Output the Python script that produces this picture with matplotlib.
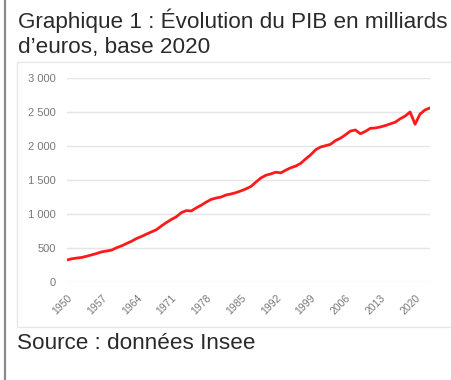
import numpy as np
import matplotlib
matplotlib.use("Agg")
import matplotlib.pyplot as plt
from matplotlib.patches import Rectangle
from matplotlib.lines import Line2D

plt.rcParams['font.family'] = ['Liberation Sans', 'DejaVu Sans']

years = np.arange(1950, 2024)
pib = [
    324, 342, 352, 362, 380, 400, 420, 444, 456, 470,
    505, 532, 567, 600, 640, 670, 705, 737, 770, 825,
    875, 920, 960, 1020, 1050, 1045, 1090, 1130, 1175, 1215,
    1235, 1250, 1280, 1295, 1315, 1340, 1370, 1405, 1470, 1530,
    1570, 1590, 1615, 1605, 1645, 1680, 1705, 1745, 1810, 1870,
    1945, 1985, 2005, 2025, 2080, 2115, 2165, 2220, 2235, 2180,
    2215, 2260, 2265, 2280, 2300, 2325, 2350, 2400, 2440, 2500,
    2320, 2470, 2530, 2560,
]
tick_years = list(range(1950, 2021, 7))
y_ticks = [0, 500, 1000, 1500, 2000, 2500, 3000]
y_labels = ["0", "500", "1 000", "1 500", "2 000", "2 500", "3 000"]

W, H = 452, 380
fig = plt.figure(figsize=(W / 100, H / 100), dpi=100)

# decorations: left bar and chart frame
fig.add_artist(Line2D([5 / W, 5 / W], [0, 1], color="#8a8a8a", lw=1.6))
fig.add_artist(Rectangle((17 / W, 1 - 327 / H), 1.0, (327 - 62) / H,
                         fill=False, edgecolor="#e6e6e6", lw=1))

fig.text(18 / W, 1 - 28 / H, "Graphique 1 : Évolution du PIB en milliards",
         fontsize=16.2, color="#2a2a2a", va="baseline")
fig.text(18 / W, 1 - 53 / H, "d’euros, base 2020",
         fontsize=16.2, color="#2a2a2a", va="baseline")
fig.text(17 / W, 1 - 349 / H, "Source : données Insee",
         fontsize=16.2, color="#2a2a2a", va="baseline")

ax = fig.add_axes([67 / W, 1 - 282 / H, (430 - 67) / W, (282 - 78) / H])
ax.plot(years, pib, color="#ff1a1a", lw=2)
ax.set_xlim(1950, 2023)
ax.set_ylim(0, 3000)
ax.set_yticks(y_ticks)
ax.set_yticklabels(y_labels)
ax.set_xticks(tick_years)
ax.set_xticklabels([str(y) for y in tick_years], rotation=45, ha="right", rotation_mode="anchor")
ax.tick_params(axis="both", length=0, labelcolor="#777777")
ax.tick_params(axis="y", pad=8, labelsize=8)
ax.tick_params(axis="x", pad=8, labelsize=7.5)
ax.grid(axis="y", color="#e5e5e5", lw=1)
ax.set_axisbelow(True)
for s in ax.spines.values():
    s.set_visible(False)

fig.savefig("out.png", dpi=100)
